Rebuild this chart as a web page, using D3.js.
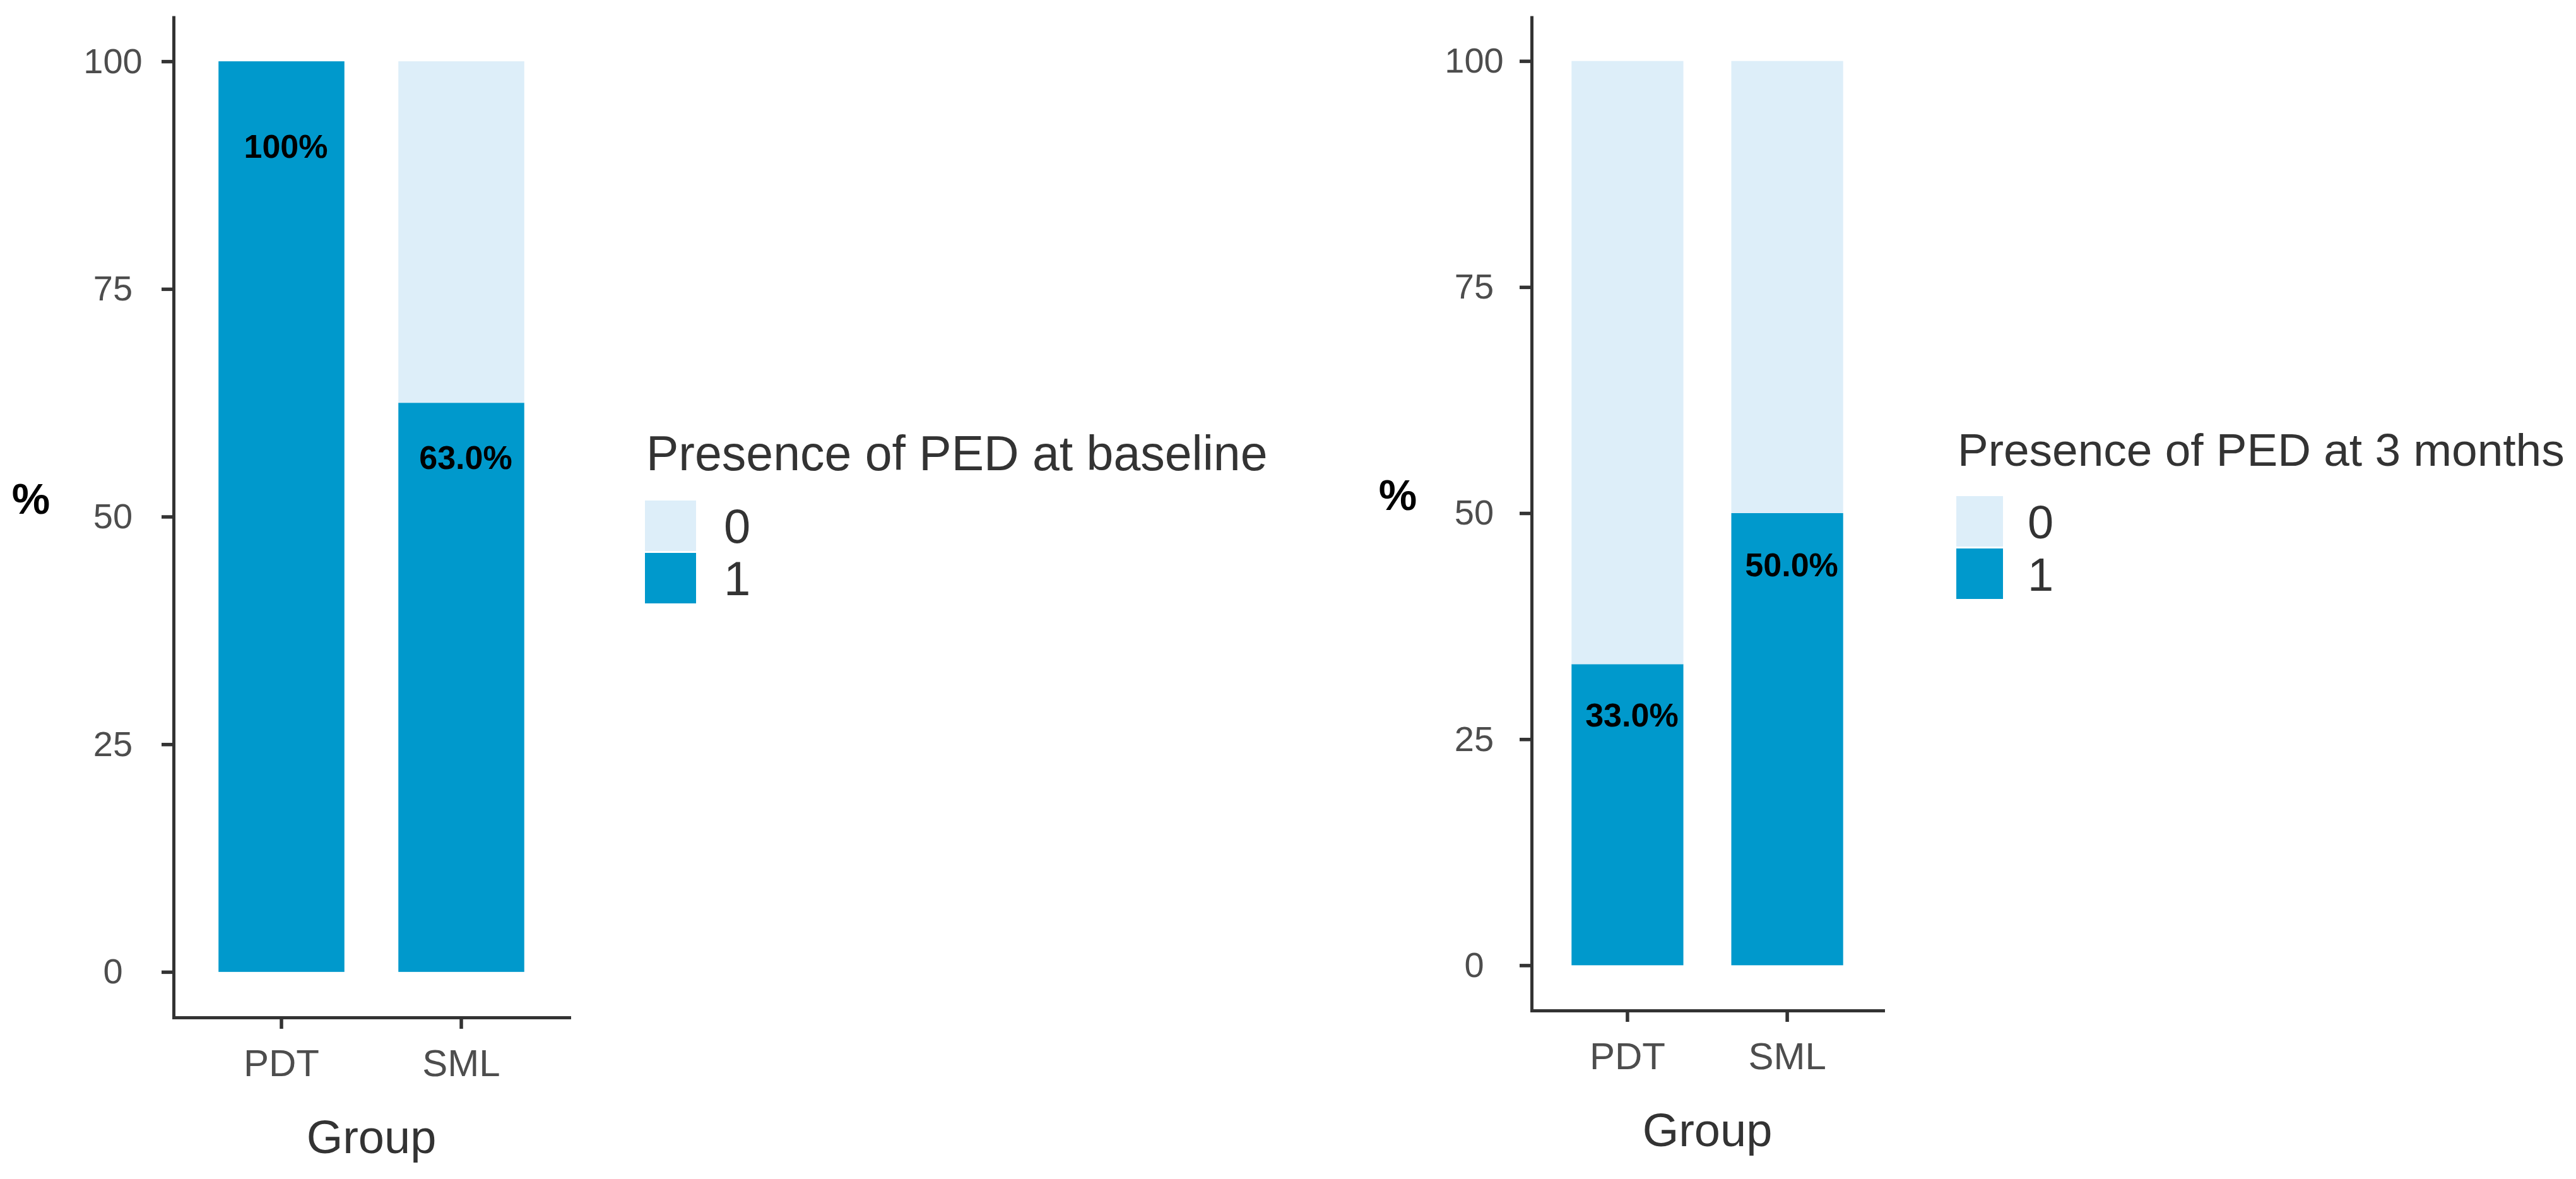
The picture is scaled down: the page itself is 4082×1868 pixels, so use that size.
<!DOCTYPE html>
<html>
<head>
<meta charset="utf-8">
<script src="https://cdn.jsdelivr.net/npm/d3@7"></script>
<style>
  body { margin: 0; background: #fff; }
  svg { display: block; font-family: "Liberation Sans", Arial, Helvetica, sans-serif; }
</style>
</head>
<body>
<div id="chart"></div>
<script>
// data
const groups = ['PDT', 'SML'];
const levels = ['0', '1'];
const levelColors = ['#DDEEF9', '#0099CC'];
const yTicks = [0, 25, 50, 75, 100];

// % of patients with PED (level "1") per group
const baselinePct = [100, 62.5];
const baselineLabels = ['100%', '63.0%'];
const baselineLabelAt = [90.7, 56.5];

const monthPct = [33.3, 50];
const monthLabels = ['33.0%', '50.0%'];
const monthLabelAt = [27.7, 44.3];

const panels = [
  { title: 'Presence of PED at baseline', pct: baselinePct, labels: baselineLabels, labelAt: baselineLabelAt,
    left: 275, right: 902, top: 25, bottom: 1612, tickLabelX: 96, percentX: 226,
    legendX: 1022, legendY: 745, titleSize: 77, keyW: 81, labelX: 125, labelSize: 76 },
  { title: 'Presence of PED at 3 months', pct: monthPct, labels: monthLabels, labelAt: monthLabelAt,
    left: 2427, right: 2984, top: 25, bottom: 1601, tickLabelX: 91, percentX: 212,
    legendX: 3100, legendY: 738, titleSize: 73, keyW: 74, labelX: 113, labelSize: 74 }
];

const svg = d3.select('#chart')
  .append('svg')
  .attr('width', 4082)
  .attr('height', 1868);

panels.forEach(p => drawPanel(p));

function drawPanel(p) {
  const x = d3.scaleBand()
    .domain(groups)
    .range([p.left, p.right])
    .paddingInner(0.3)
    .paddingOuter(0.25);

  const y = d3.scaleLinear()
    .domain([-5, 105])
    .range([p.bottom, p.top]);

  const rows = groups.map((g, i) => ({ group: g, '1': p.pct[i], '0': 100 - p.pct[i] }));
  const series = d3.stack().keys(['1', '0'])(rows);

  const g = svg.append('g');

  g.selectAll('.layer')
    .data(series)
    .enter()
    .append('g')
    .attr('fill', d => levelColors[levels.indexOf(d.key)])
    .selectAll('rect')
    .data(d => d)
    .enter()
    .append('rect')
    .attr('x', d => x(d.data.group))
    .attr('y', d => y(d[1]))
    .attr('width', x.bandwidth())
    .attr('height', d => y(d[0]) - y(d[1]));

  // value labels
  g.selectAll('.val')
    .data(groups)
    .enter()
    .append('text')
    .attr('x', d => x(d) + x.bandwidth() / 2 + 7)
    .attr('y', (d, i) => y(p.labelAt[i]))
    .attr('dy', '0.36em')
    .attr('text-anchor', 'middle')
    .attr('font-weight', 'bold')
    .attr('font-size', 52)
    .attr('fill', '#000')
    .text((d, i) => p.labels[i]);

  // y axis
  const yAxis = g.append('g')
    .attr('transform', `translate(${p.left},0)`)
    .call(d3.axisLeft(y).tickValues(yTicks).tickSize(19).tickSizeOuter(0));
  yAxis.select('.domain').attr('stroke', '#333').attr('stroke-width', 5);
  yAxis.selectAll('.tick line').attr('stroke', '#333').attr('stroke-width', 5.5);
  yAxis.selectAll('.tick text')
    .attr('x', -p.tickLabelX)
    .attr('text-anchor', 'middle')
    .attr('font-size', 56)
    .attr('fill', '#4D4D4D');

  // x axis
  const xAxis = g.append('g')
    .attr('transform', `translate(0,${p.bottom})`)
    .call(d3.axisBottom(x).tickSize(18).tickSizeOuter(0).tickPadding(32));
  xAxis.select('.domain').attr('stroke', '#333').attr('stroke-width', 5).attr('stroke-linecap', 'square');
  xAxis.selectAll('.tick line').attr('stroke', '#333').attr('stroke-width', 5.5);
  xAxis.selectAll('.tick text')
    .attr('font-size', 60)
    .attr('fill', '#4D4D4D');

  // axis titles
  g.append('text')
    .attr('x', (p.left + p.right) / 2)
    .attr('y', p.bottom + 215)
    .attr('text-anchor', 'middle')
    .attr('font-size', 74)
    .attr('fill', '#333')
    .text('Group');

  g.append('text')
    .attr('x', p.left - p.percentX)
    .attr('y', (p.top + p.bottom) / 2 - 5)
    .attr('text-anchor', 'middle')
    .attr('font-size', 68)
    .attr('font-weight', 'bold')
    .attr('fill', '#000')
    .text('%');

  // legend
  const lg = g.append('g').attr('transform', `translate(${p.legendX},${p.legendY})`);
  lg.append('text')
    .attr('x', 2)
    .attr('y', 0)
    .attr('font-size', p.titleSize)
    .attr('fill', '#333')
    .text(p.title);

  const items = lg.selectAll('.item')
    .data(levels)
    .enter()
    .append('g')
    .attr('transform', (d, i) => `translate(0,${48 + i * 83})`);
  items.append('rect')
    .attr('width', p.keyW)
    .attr('height', 80)
    .attr('fill', (d, i) => levelColors[i]);
  items.append('text')
    .attr('x', p.labelX)
    .attr('y', 40)
    .attr('dy', '0.36em')
    .attr('font-size', p.labelSize)
    .attr('fill', '#333')
    .text(d => d);
}
</script>
</body>
</html>
